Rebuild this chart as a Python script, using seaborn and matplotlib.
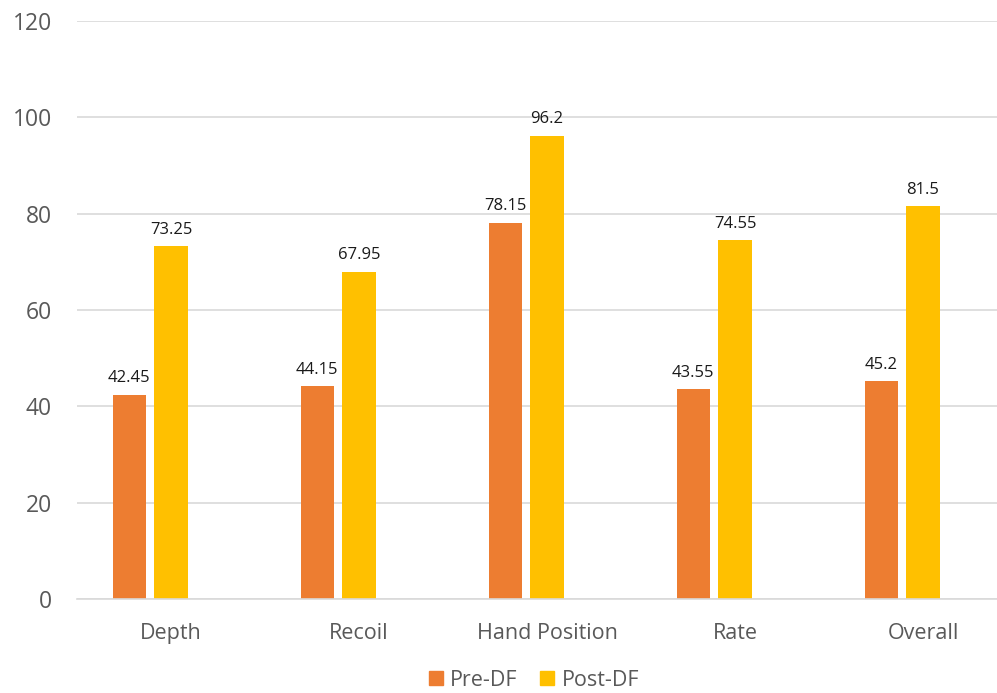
import matplotlib
matplotlib.use("Agg")
import matplotlib.pyplot as plt
from matplotlib.lines import Line2D
import seaborn as sns
import pandas as pd

categories = ["Depth", "Recoil", "Hand Position", "Rate", "Overall"]
pre_df = [42.45, 44.15, 78.15, 43.55, 45.2]
post_df = [73.25, 67.95, 96.2, 74.55, 81.5]
series_names = ["Pre-DF", "Post-DF", " "]
colors = ["#ED7D31", "#FFC000", "#FFFFFF"]
y_ticks = [0, 20, 40, 60, 80, 100, 120]

sns.set_theme(style="white")
plt.rcParams["font.family"] = ["Open Sans", "DejaVu Sans"]

df = pd.DataFrame({
    "category": categories * 3,
    "series": [series_names[0]] * 5 + [series_names[1]] * 5 + [series_names[2]] * 5,
    "value": pre_df + post_df + [0.0] * 5,
})

fig = plt.figure(figsize=(9.97, 6.93), dpi=100)
ax = fig.add_axes([77 / 997, 94 / 693, 940 / 997, 578 / 693])

sns.barplot(data=df, x="category", y="value", hue="series",
            hue_order=series_names, order=categories,
            palette=colors, saturation=1, width=0.670, gap=0.214, dodge=True,
            errorbar=None, legend=False, ax=ax, linewidth=0)

for cont in ax.containers[:2]:
    ax.bar_label(cont, labels=[f"{v:g}" for v in cont.datavalues],
                 padding=6, fontsize=12, color="#1A1A1A")

ax.set_ylim(0, 120)
ax.set_xlim(-0.5, 4.5)
ax.set_yticks(y_ticks)
ax.yaxis.grid(True, color="#D9D9D9", linewidth=1.2)
ax.set_axisbelow(True)
for side in ["top", "right", "left"]:
    ax.spines[side].set_visible(False)
ax.spines["bottom"].set_color("#D9D9D9")
ax.spines["bottom"].set_linewidth(1.2)
ax.tick_params(axis="y", length=0, pad=18, labelsize=16.5, labelcolor="#595959")
ax.tick_params(axis="x", length=0, pad=17, labelsize=15.5, labelcolor="#595959")
ax.set_xlabel("")
ax.set_ylabel("")

handles = [Line2D([], [], marker="s", linestyle="none", markersize=10.5,
                  markerfacecolor=c, markeredgecolor=c) for c in colors[:2]]
fig.legend(handles, series_names[:2], loc="center", bbox_to_anchor=(532 / 997, 1 - 680 / 693),
           ncol=2, frameon=False, fontsize=15.5, labelcolor="#595959",
           handletextpad=0.15, columnspacing=0.9, handlelength=1.0)

fig.savefig("out.png", dpi=100)
